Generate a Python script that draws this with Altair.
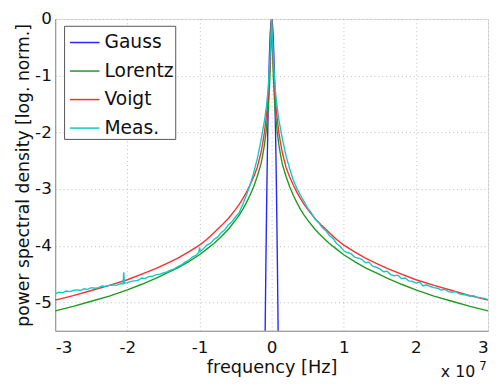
import altair as alt
import pandas as pd

series_names = ["Gauss", "Lorentz", "Voigt", "Meas."]
series_colors = ["#2626ff", "#1f9a1f", "#ff2e2e", "#14c6c6"]

x_ticks = [-3, -2, -1, 0, 1, 2, 3]
y_ticks = [-5, -4, -3, -2, -1, 0]

# frequency in units of 1e7 Hz, PSD in log10 (normalised)
gauss_x = [-0.10, -0.09, -0.08, -0.07, -0.06, -0.05, -0.04, -0.03, -0.02, -0.01, 0.00,
           0.01, 0.02, 0.03, 0.04, 0.05, 0.06, 0.07, 0.08, 0.09, 0.10]
gauss_y = [-6.80, -5.50, -4.35, -3.33, -2.44, -1.70, -1.09, -0.61, -0.27, -0.07, 0.00,
           -0.07, -0.27, -0.61, -1.09, -1.70, -2.44, -3.33, -4.35, -5.50, -6.80]

lorentz_x = [-3.0, -2.75, -2.5, -2.25, -2.0, -1.8, -1.6, -1.45, -1.3, -1.15, -1.0, -0.9, -0.8,
             -0.7, -0.6, -0.5, -0.45, -0.4, -0.35, -0.3, -0.25, -0.2, -0.15, -0.125, -0.1,
             -0.075, -0.05, -0.04, -0.03, -0.02, -0.015, -0.01, -0.005, 0.0,
             0.005, 0.01, 0.015, 0.02, 0.03, 0.04, 0.05, 0.075, 0.1, 0.125, 0.15, 0.2, 0.25,
             0.3, 0.35, 0.4, 0.45, 0.5, 0.6, 0.7, 0.8, 0.9, 1.0, 1.15, 1.3, 1.45, 1.6, 1.8,
             2.0, 2.25, 2.5, 2.75, 3.0]
lorentz_y = [-5.15, -5.07, -4.98, -4.89, -4.78, -4.68, -4.57, -4.48, -4.39, -4.28, -4.16, -4.06, -3.96,
             -3.84, -3.71, -3.55, -3.46, -3.36, -3.24, -3.11, -2.96, -2.78, -2.57, -2.41, -2.22,
             -1.97, -1.63, -1.44, -1.20, -0.88, -0.67, -0.42, -0.15, 0.00,
             -0.15, -0.42, -0.67, -0.88, -1.20, -1.44, -1.63, -1.97, -2.22, -2.41, -2.57, -2.78, -2.96,
             -3.11, -3.24, -3.36, -3.46, -3.55, -3.71, -3.84, -3.96, -4.06, -4.16, -4.28, -4.39, -4.48,
             -4.57, -4.68, -4.78, -4.89, -4.98, -5.07, -5.15]

voigt_x = lorentz_x
voigt_y = [-4.96, -4.88, -4.79, -4.70, -4.60, -4.50, -4.40, -4.31, -4.22, -4.11, -3.99, -3.89, -3.77,
           -3.65, -3.52, -3.36, -3.27, -3.17, -3.06, -2.93, -2.79, -2.62, -2.37, -2.20, -2.00,
           -1.74, -1.39, -1.20, -0.97, -0.66, -0.48, -0.28, -0.08, 0.00,
           -0.08, -0.28, -0.48, -0.66, -0.97, -1.20, -1.39, -1.74, -2.00, -2.20, -2.37, -2.62, -2.79,
           -2.93, -3.06, -3.17, -3.27, -3.36, -3.52, -3.65, -3.77, -3.89, -3.99, -4.11, -4.22, -4.31,
           -4.40, -4.50, -4.60, -4.70, -4.79, -4.88, -4.96]

meas_x = [-3.00, -2.95, -2.90, -2.85, -2.80, -2.75, -2.70, -2.65, -2.60, -2.55,
          -2.50, -2.45, -2.40, -2.35, -2.30, -2.25, -2.20, -2.15, -2.10, -2.06,
          -2.05, -2.04, -2.00, -1.95, -1.90, -1.85, -1.80, -1.75, -1.70, -1.65,
          -1.60, -1.55, -1.50, -1.45, -1.40, -1.35, -1.30, -1.25, -1.20, -1.15,
          -1.10, -1.05, -1.01, -1.00, -0.99, -0.95, -0.90, -0.85, -0.80, -0.75,
          -0.70, -0.65, -0.60, -0.55, -0.50, -0.45, -0.40, -0.35, -0.30, -0.25,
          -0.20, -0.15, -0.10, -0.07, -0.05, -0.03, -0.02, -0.01, 0.00,
          0.01, 0.02, 0.03, 0.05, 0.07, 0.10, 0.15, 0.20, 0.25, 0.30,
          0.35, 0.40, 0.45, 0.50, 0.55, 0.60, 0.65, 0.70, 0.75, 0.80,
          0.85, 0.90, 0.95, 1.00, 1.05, 1.10, 1.15, 1.20, 1.25, 1.30,
          1.35, 1.40, 1.45, 1.50, 1.55, 1.60, 1.65, 1.70, 1.75, 1.80,
          1.85, 1.90, 1.95, 2.00, 2.05, 2.10, 2.15, 2.20, 2.25, 2.30,
          2.35, 2.40, 2.45, 2.50, 2.55, 2.60, 2.65, 2.70, 2.75, 2.80,
          2.85, 2.90, 2.95, 3.00]
meas_y = [-4.85, -4.82, -4.83, -4.80, -4.81, -4.79, -4.78, -4.79, -4.76, -4.77,
          -4.74, -4.75, -4.74, -4.71, -4.72, -4.70, -4.69, -4.70, -4.67, -4.67,
          -4.47, -4.66, -4.65, -4.63, -4.62, -4.61, -4.57, -4.58, -4.54, -4.54,
          -4.51, -4.50, -4.48, -4.46, -4.43, -4.41, -4.37, -4.34, -4.29, -4.26,
          -4.20, -4.17, -4.12, -4.03, -4.10, -4.06, -3.99, -3.96, -3.89, -3.85,
          -3.77, -3.72, -3.63, -3.58, -3.49, -3.42, -3.27, -3.11, -2.93, -2.72,
          -2.47, -2.16, -1.80, -1.52, -1.26, -0.86, -0.60, -0.30, 0.00,
          -0.30, -0.60, -0.85, -1.24, -1.50, -1.78, -2.12, -2.42, -2.64, -2.84,
          -2.99, -3.11, -3.22, -3.34, -3.42, -3.53, -3.59, -3.68, -3.73, -3.82,
          -3.87, -3.96, -4.01, -4.09, -4.12, -4.14, -4.20, -4.22, -4.24, -4.30,
          -4.29, -4.36, -4.38, -4.41, -4.46, -4.45, -4.51, -4.53, -4.52, -4.58,
          -4.57, -4.62, -4.63, -4.66, -4.64, -4.71, -4.69, -4.72, -4.74, -4.75,
          -4.78, -4.77, -4.81, -4.82, -4.81, -4.85, -4.86, -4.87, -4.89, -4.88,
          -4.91, -4.92, -4.93, -4.95]

frames = []
for name, xs, ys in [("Gauss", gauss_x, gauss_y), ("Lorentz", lorentz_x, lorentz_y),
                     ("Voigt", voigt_x, voigt_y), ("Meas.", meas_x, meas_y)]:
    frames.append(pd.DataFrame({"series": name, "f": xs, "psd": ys}))
df = pd.concat(frames, ignore_index=True)

FONT = "DejaVu Sans"

x_enc = alt.X("f:Q", scale=alt.Scale(domain=[-3, 3], nice=False, zero=False),
              axis=alt.Axis(values=x_ticks, labelExpr="datum.value + ''", grid=True,
                            gridDash=[1, 3], gridColor="#bdbdbd", gridWidth=1,
                            domainColor="#8c8c8c", ticks=False,
                            labelFont=FONT, labelFontSize=17, labelColor="#111",
                            labelPadding=9, title="frequency [Hz]", titleFont=FONT,
                            titleFontSize=18, titleFontWeight="normal", titleColor="#111",
                            titlePadding=3))
y_enc = alt.Y("psd:Q", scale=alt.Scale(domain=[-5.5, 0], nice=False, zero=False),
              axis=alt.Axis(values=y_ticks, labelExpr="datum.value + ''", grid=True,
                            gridDash=[1, 3], gridColor="#bdbdbd", gridWidth=1,
                            domainColor="#8c8c8c", ticks=False,
                            labelFont=FONT, labelFontSize=17, labelColor="#111",
                            labelPadding=4, title="power spectral density [log. norm.]",
                            titleFont=FONT, titleFontSize=17.5, titleFontWeight="normal",
                            titleColor="#111", titlePadding=2))
color_enc = alt.Color("series:N",
                      scale=alt.Scale(domain=series_names, range=series_colors),
                      legend=alt.Legend(orient="none", legendX=9, legendY=7, title=None,
                                        fillColor="white", strokeColor="#555555",
                                        padding=1, symbolOffset=4, symbolType="stroke",
                                        symbolSize=900, symbolStrokeWidth=1.5,
                                        labelFont=FONT, labelFontSize=19, labelColor="#111",
                                        labelOffset=4, rowPadding=3, labelLimit=200))

base = alt.Chart(df)
layers = []
for s in series_names:
    layers.append(base.transform_filter(alt.datum.series == s)
                  .mark_line(clip=True, strokeWidth=1.4)
                  .encode(x=x_enc, y=y_enc, color=color_enc))

exp_main = alt.Chart(pd.DataFrame({"t": ["x 10"]})).mark_text(
    align="left", baseline="alphabetic", font=FONT, fontSize=16, color="#111"
).encode(x=alt.value(392), y=alt.value(364), text="t:N")
exp_sup = alt.Chart(pd.DataFrame({"t": ["7"]})).mark_text(
    align="left", baseline="alphabetic", font=FONT, fontSize=12, color="#111"
).encode(x=alt.value(431), y=alt.value(357), text="t:N")

chart = alt.layer(*layers, exp_main, exp_sup).properties(
    width=440, height=317,
    autosize=alt.AutoSizeParams(type="none"),
    padding={"left": 48, "top": 8, "right": 4, "bottom": 49},
).configure_view(stroke="#8c8c8c", strokeWidth=1).configure(background="white")

chart.save("out.html", embed_options={"renderer": "svg", "actions": False})
